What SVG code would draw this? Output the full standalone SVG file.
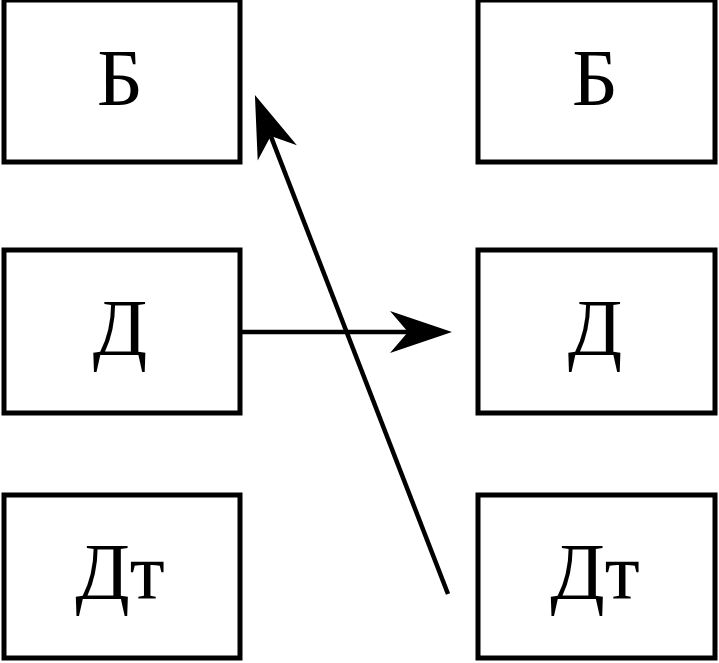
<svg xmlns="http://www.w3.org/2000/svg" width="719" height="663" viewBox="0 0 719 663">
  <style>
    .box { fill: #ffffff; stroke: #000000; stroke-width: 5; }
    .lbl { font-family: "Liberation Serif", "Times New Roman", serif; font-size: 80px; fill: #000000; text-anchor: middle; }
    .conn { stroke: #000000; stroke-width: 4.5; fill: none; }
  </style>
  <defs>
    <marker id="arrow" markerUnits="userSpaceOnUse" markerWidth="70" markerHeight="50" viewBox="-66 -25 70 50" refX="-44" refY="0" orient="auto" overflow="visible">
      <path d="M0,0 L-62,-21 L-44,0 L-62,21 Z" fill="#000000"/>
    </marker>
  </defs>
  <rect width="719" height="663" fill="#ffffff"/>
  <g id="left-B"><rect class="box" x="4" y="0" width="236" height="162"/><text class="lbl" x="120" y="105">Б</text></g>
  <g id="left-D"><rect class="box" x="4" y="250" width="236" height="163"/><text class="lbl" x="120" y="355">Д</text></g>
  <g id="left-Dt"><rect class="box" x="4" y="495" width="236" height="163"/><text class="lbl" x="120" y="599">Дт</text></g>
  <g id="right-B"><rect class="box" x="478" y="0" width="237" height="162"/><text class="lbl" x="595" y="105">Б</text></g>
  <g id="right-D"><rect class="box" x="478" y="250" width="237" height="163"/><text class="lbl" x="595" y="355">Д</text></g>
  <g id="right-Dt"><rect class="box" x="478" y="495" width="237" height="163"/><text class="lbl" x="595" y="599">Дт</text></g>
  <g id="connectors">
    <line class="conn" x1="242" y1="332" x2="408" y2="332" marker-end="url(#arrow)"/>
    <line class="conn" x1="448" y1="594" x2="270.8" y2="136.1" marker-end="url(#arrow)"/>
  </g>
</svg>
